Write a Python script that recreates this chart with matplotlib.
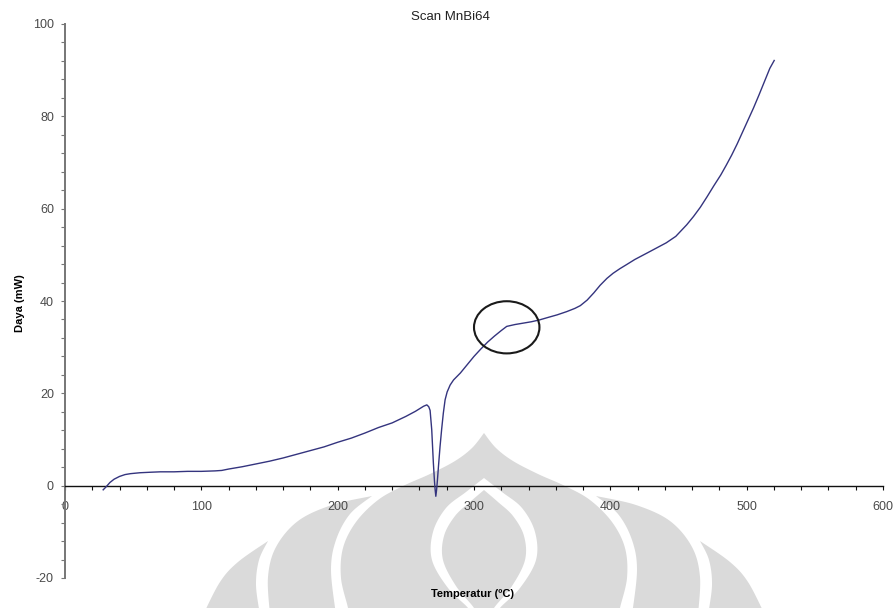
import numpy as np
import matplotlib
matplotlib.use("Agg")
import matplotlib.pyplot as plt
from matplotlib.patches import Ellipse, Polygon
from matplotlib.ticker import MultipleLocator

plt.rcParams["axes.unicode_minus"] = False

# DSC scan of MnBi64: heating power versus temperature
temperature = [28, 30, 33, 36, 40, 44, 48, 55, 62, 70, 80, 90, 100, 110, 115,
               120, 130, 140, 150, 160, 170, 180, 190, 200, 210, 220, 230, 240,
               250, 257, 263, 265.4, 266.8, 267.8, 269.0, 270.2, 271.0, 271.5,
               272.0, 272.6, 273.2, 274.1, 275.1, 276.3, 277.5, 278.8, 280.3,
               282.5, 285, 290, 295, 300, 305, 310, 315, 320, 324, 330, 336,
               342, 348, 355, 361, 368, 374, 378, 383, 388, 392.5, 397.5, 402,
               407, 412, 418, 427, 434, 441, 448, 456, 461, 466, 471, 476, 481,
               485, 489, 493, 497, 501, 505, 509, 513, 517, 520.2]
power = [-0.9, -0.3, 0.7, 1.4, 2.0, 2.4, 2.6, 2.8, 2.9, 3.0, 3.0, 3.1, 3.1,
         3.2, 3.3, 3.6, 4.1, 4.7, 5.3, 6.0, 6.8, 7.6, 8.4, 9.4, 10.3, 11.4,
         12.6, 13.6, 15.0, 16.1, 17.2, 17.5, 17.1, 16.3, 12.1, 4.9, 1.0, -0.9,
         -2.3, -0.8, 1.3, 4.8, 8.5, 12.3, 15.7, 18.6, 20.3, 21.8, 22.9, 24.4,
         26.2, 28.0, 29.6, 31.1, 32.4, 33.6, 34.5, 34.9, 35.2, 35.5, 35.9,
         36.5, 37.0, 37.7, 38.4, 39.0, 40.2, 41.8, 43.4, 44.9, 46.0, 47.0,
         47.9, 49.0, 50.4, 51.5, 52.6, 54.0, 56.5, 58.3, 60.3, 62.6, 65.0,
         67.3, 69.4, 71.6, 74.0, 76.6, 79.2, 81.8, 84.6, 87.5, 90.4, 92.1]

# highlighted transition region
mark_center = (324, 34.3)
mark_width = 48
mark_height = 11.3

x_ticks = [0, 100, 200, 300, 400, 500, 600]
y_ticks = [-20, 0, 20, 40, 60, 80, 100]

W, H = 895, 608
fig = plt.figure(figsize=(W / 100, H / 100), dpi=100)
fig.patch.set_facecolor("white")


# ---- faint background emblem ----
def catmull(pts, n=18):
    p = np.asarray(pts, float)
    p = np.vstack([p[0], p, p[-1]])
    out = []
    t = np.linspace(0, 1, n, endpoint=False)[:, None]
    for i in range(1, len(p) - 2):
        p0, p1, p2, p3 = p[i - 1], p[i], p[i + 1], p[i + 2]
        seg = 0.5 * ((2 * p1) + (-p0 + p2) * t + (2 * p0 - 5 * p1 + 4 * p2 - p3) * t ** 2
                     + (-p0 + 3 * p1 - 3 * p2 + p3) * t ** 3)
        out.append(seg)
    out.append(p[-2][None])
    return np.vstack(out)


CX = 484


def mirror(pts):
    return [(2 * CX - x, y) for x, y in pts]


def add_shape(segments, color):
    pts = np.vstack([catmull(s) for s in segments])
    pts = np.column_stack([pts[:, 0] / W, 1 - pts[:, 1] / H])
    fig.add_artist(Polygon(pts, closed=True, transform=fig.transFigure,
                           facecolor=color, edgecolor="none", zorder=-5))


EMBLEM = "#dadada"

dome_left = [(348, 615), (348, 608), (341, 578), (343, 548), (356, 522),
             (378, 500), (403, 486), (430, 474), (455, 461), (472, 448),
             (484, 433)]
add_shape([dome_left, mirror(dome_left)[::-1]], EMBLEM)

onion_left = [(468, 615), (468, 608), (448, 588), (432, 560), (433, 532),
              (446, 508), (466, 492), (484, 478)]
add_shape([onion_left, mirror(onion_left)[::-1]], "white")

petal_left = [(474, 615), (474, 608), (456, 586), (443, 560), (444, 536),
              (455, 516), (470, 502), (484, 490)]
add_shape([petal_left, mirror(petal_left)[::-1]], EMBLEM)

wing2_outer = [(270, 615), (268, 577), (276, 547), (298, 521), (332, 505), (372, 496)]
wing2_inner = [(372, 496), (350, 514), (336, 540), (331, 570), (336, 615)]
wing1_outer = [(203, 615), (220, 582), (238, 562), (268, 541)]
wing1_inner = [(268, 541), (259, 560), (256, 585), (260, 615)]
for outer, inner in [(wing2_outer, wing2_inner), (wing1_outer, wing1_inner)]:
    add_shape([outer, inner], EMBLEM)
    add_shape([mirror(outer), mirror(inner)], EMBLEM)

# ---- chart ----
ax = fig.add_axes([65 / W, (H - 578) / H, (883 - 65) / W, (578 - 24) / H])
ax.patch.set_visible(False)

ax.plot(temperature, power, color="#34347e", lw=1.0, zorder=3)
ax.add_patch(Ellipse(mark_center, mark_width, mark_height, fill=False,
                     edgecolor="#1a1a1a", lw=1.5, zorder=4))

ax.set_xlim(0, 600)
ax.set_ylim(-20, 100)
ax.set_xticks(x_ticks)
ax.set_yticks(y_ticks)
ax.xaxis.set_minor_locator(MultipleLocator(20))
ax.yaxis.set_minor_locator(MultipleLocator(4))

for s in ("top", "right"):
    ax.spines[s].set_visible(False)
ax.spines["bottom"].set_position(("data", 0))
ax.spines["bottom"].set_color("#111111")
ax.spines["bottom"].set_linewidth(1.0)
ax.spines["left"].set_color("#767676")
ax.spines["left"].set_linewidth(1.4)

ax.tick_params(axis="x", which="both", direction="out", colors="#111111",
               labelcolor="#4a4a4a", width=0.8)
ax.tick_params(axis="x", which="major", length=3, pad=8)
ax.tick_params(axis="x", which="minor", length=3)
ax.tick_params(axis="y", which="both", direction="out", colors="#767676",
               labelcolor="#4a4a4a", width=0.8, length=3, pad=5)
for lab in ax.get_xticklabels() + ax.get_yticklabels():
    lab.set_fontfamily("Liberation Sans")
    lab.set_fontsize(9)

ax.set_xlabel("Temperatur (ºC)", fontfamily="Liberation Sans", fontsize=8,
              fontweight="bold", color="black")
ax.xaxis.set_label_coords((473 - 65) / 818, (578 - 589) / 554)
ax.set_ylabel("Daya (mW)", fontfamily="Liberation Sans", fontsize=8,
              fontweight="bold", color="black")
ax.yaxis.set_label_coords((25 - 65) / 818, (578 - 303) / 554)

fig.text(450 / W, 1 - 20 / H, "Scan MnBi64", ha="center", va="baseline",
         fontfamily="Liberation Sans", fontsize=9.5, color="#222222")

fig.savefig("out.png", dpi=100)
